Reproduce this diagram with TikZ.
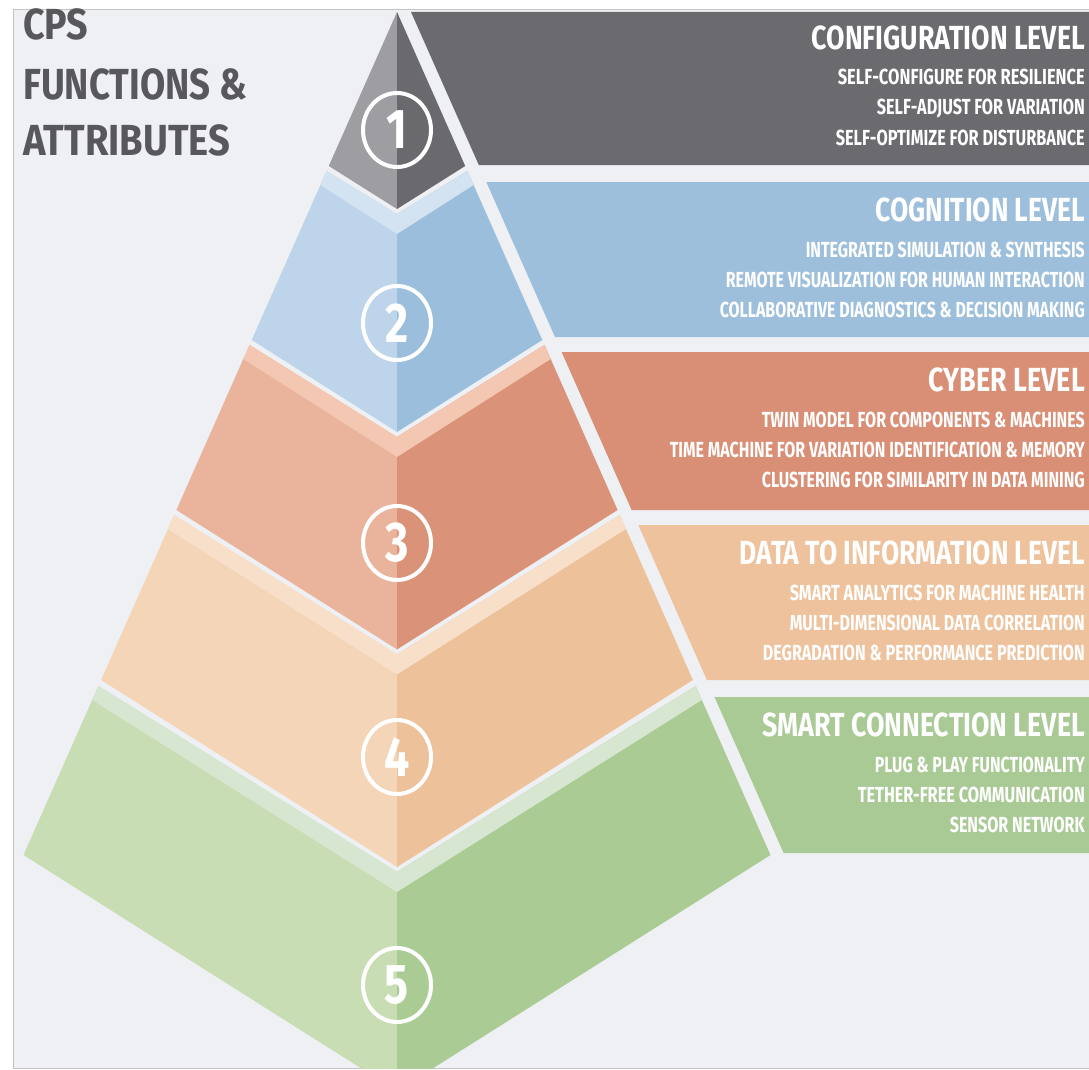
\documentclass[tikz,border=0pt]{standalone}
\usepackage{fontspec}
\usepackage{graphicx}
\usetikzlibrary{shapes.geometric}
\newfontfamily\dinfont{Fira Sans}
\newcommand\fitw[2]{\resizebox{#1pt}{\height}{#2}}
\definecolor{bgc}{HTML}{EEF0F3}
\definecolor{brd}{HTML}{C4C4C6}
\definecolor{ttl}{HTML}{58585C}
\definecolor{pA}{HTML}{6A6A6F}\definecolor{tAl}{HTML}{9E9EA2}\definecolor{tAr}{HTML}{69696E}
\definecolor{pB}{HTML}{9DBFDC}\definecolor{tBl}{HTML}{BDD4EA}\definecolor{tBr}{HTML}{9BBEDC}\definecolor{bB}{HTML}{D3E3F1}
\definecolor{pC}{HTML}{D98F76}\definecolor{tCl}{HTML}{EAB39C}\definecolor{tCr}{HTML}{DA9378}\definecolor{bC}{HTML}{F3C7B1}
\definecolor{pD}{HTML}{EEC29C}\definecolor{tDl}{HTML}{F4D5B8}\definecolor{tDr}{HTML}{EDC199}\definecolor{bD}{HTML}{F7DFCA}
\definecolor{pE}{HTML}{A9CA95}\definecolor{tEl}{HTML}{C9DDB5}\definecolor{tEr}{HTML}{AACB94}\definecolor{bE}{HTML}{D6E6D0}
\tikzset{
  lvltitle/.style={anchor=base east, text=white, inner sep=0pt, font=\dinfont\bfseries\fontsize{33.4}{34}\selectfont},
  lvlsub/.style={anchor=base east, text=white, inner sep=0pt, font=\dinfont\bfseries\fontsize{21.8}{22}\selectfont},
  bigttl/.style={anchor=base west, text=ttl, inner sep=0pt, font=\dinfont\bfseries\fontsize{43.5}{44}\selectfont},
  numring/.style={ellipse, draw=white, line width=4pt, minimum width=68pt, minimum height=74pt, inner sep=0pt, text=white, font=\dinfont\bfseries\fontsize{56}{56}\selectfont}
}
\begin{document}
\begin{tikzpicture}[x=1pt,y=-1pt]
\useasboundingbox (0,0) rectangle (1089,1070);
\fill[white] (0,0) rectangle (1089,1070);
\fill[bgc] (13,10) rectangle (1100,1068);
\draw[brd, line width=1pt] (1100,10) -- (13,10) -- (13,1068) -- (1100,1068);

% right panels
\fill[pA] (411,12) -- (1095,12) -- (1095,165) -- (478.8,165) -- cycle;
\fill[pB] (486.3,182) -- (1095,182) -- (1095,337) -- (555.0,337) -- cycle;
\fill[pC] (561.6,352) -- (1095,352) -- (1095,510) -- (631.6,510) -- cycle;
\fill[pD] (638.3,525) -- (1095,525) -- (1095,680) -- (706.9,680) -- cycle;
\fill[pE] (714.5,697) -- (1095,697) -- (1095,853) -- (783.6,853) -- cycle;

% pyramid
\begin{scope}
\clip (13,10) rectangle (1100,1068);
% tier 1
\fill[tAl] (397,12) -- (328.8,166) -- (397,209) -- cycle;
\fill[tAr] (397,12) -- (465.2,166) -- (397,209) -- cycle;
% tier 2
\fill[tBl] (397,214) -- (326.6,171) -- (251.7,340) -- (397,432) -- cycle;
\fill[tBr] (397,214) -- (467.4,171) -- (542.3,340) -- (397,432) -- cycle;
\fill[bB] (397,214) -- (326.6,171) -- (320.4,185) -- (397,234) -- (473.6,185) -- (467.4,171) -- cycle;
% tier 3
\fill[tCl] (397,437) -- (249.5,345) -- (176.4,510) -- (397,649.4) -- cycle;
\fill[tCr] (397,437) -- (544.5,345) -- (617.6,510) -- (397,649.4) -- cycle;
\fill[bC] (397,437) -- (249.5,345) -- (243.3,359) -- (397,457) -- (550.7,359) -- (544.5,345) -- cycle;
% tier 4
\fill[tDl] (397,654.4) -- (174.2,515) -- (101.1,680) -- (397,867) -- cycle;
\fill[tDr] (397,654.4) -- (619.8,515) -- (692.9,680) -- (397,867) -- cycle;
\fill[bD] (397,654.4) -- (174.2,515) -- (168.0,529) -- (397,674.4) -- (626.0,529) -- (619.8,515) -- cycle;
% tier 5
\fill[tEl] (397,872) -- (98.4,686) -- (23.5,855) -- (397,1091) -- cycle;
\fill[tEr] (397,872) -- (695.6,686) -- (770.5,855) -- (397,1091) -- cycle;
\fill[bE] (397,872) -- (98.4,686) -- (92.2,700) -- (397,892) -- (701.8,700) -- (695.6,686) -- cycle;
\end{scope}

% numbers
\node[numring] (n1) at (397,130) {\scalebox{0.8}[1]{1}};
\node[numring] (n2) at (397,323) {\scalebox{0.8}[1]{2}};
\node[numring] (n3) at (397,543) {\scalebox{0.8}[1]{3}};
\node[numring] (n4) at (397,757) {\scalebox{0.8}[1]{4}};
\node[numring] (n5) at (397,985) {\scalebox{0.8}[1]{5}};

% heading
\node[bigttl] (h1) at (23,40) {\fitw{65}{CPS}};
\node[bigttl] (h2) at (23,100) {\fitw{224}{FUNCTIONS \&}};
\node[bigttl] (h3) at (23,155) {\fitw{207}{ATTRIBUTES}};

% panel 1
\node[lvltitle] (t1) at (1085,50) {\fitw{273}{CONFIGURATION LEVEL}};
\node[lvlsub] (s11) at (1085,85) {\fitw{247}{SELF-CONFIGURE FOR RESILIENCE}};
\node[lvlsub] (s12) at (1085,115) {\fitw{208}{SELF-ADJUST FOR VARIATION}};
\node[lvlsub] (s13) at (1085,146) {\fitw{249}{SELF-OPTIMIZE FOR DISTURBANCE}};
% panel 2
\node[lvltitle] (t2) at (1085,221.5) {\fitw{209}{COGNITION LEVEL}};
\node[lvlsub] (s21) at (1085,257.5) {\fitw{279}{INTEGRATED SIMULATION \& SYNTHESIS}};
\node[lvlsub] (s22) at (1085,287.5) {\fitw{359}{REMOTE VISUALIZATION FOR HUMAN INTERACTION}};
\node[lvlsub] (s23) at (1085,317.5) {\fitw{365}{COLLABORATIVE DIAGNOSTICS \& DECISION MAKING}};
% panel 3
\node[lvltitle] (t3) at (1085,391.5) {\fitw{156}{CYBER LEVEL}};
\node[lvlsub] (s31) at (1085,427.5) {\fitw{323}{TWIN MODEL FOR COMPONENTS \& MACHINES}};
\node[lvlsub] (s32) at (1085,457.5) {\fitw{415}{TIME MACHINE FOR VARIATION IDENTIFICATION \& MEMORY}};
\node[lvlsub] (s33) at (1085,487.5) {\fitw{323}{CLUSTERING FOR SIMILARITY IN DATA MINING}};
% panel 4
\node[lvltitle] (t4) at (1085,564.5) {\fitw{345}{DATA TO INFORMATION LEVEL}};
\node[lvlsub] (s41) at (1085,600.5) {\fitw{295}{SMART ANALYTICS FOR MACHINE HEALTH}};
\node[lvlsub] (s42) at (1085,630.5) {\fitw{295}{MULTI-DIMENSIONAL DATA CORRELATION}};
\node[lvlsub] (s43) at (1085,660.5) {\fitw{322}{DEGRADATION \& PERFORMANCE PREDICTION}};
% panel 5
\node[lvltitle] (t5) at (1085,736.5) {\fitw{322}{SMART CONNECTION LEVEL}};
\node[lvlsub] (s51) at (1085,772.5) {\fitw{210}{PLUG \& PLAY FUNCTIONALITY}};
\node[lvlsub] (s52) at (1085,802.5) {\fitw{227}{TETHER-FREE COMMUNICATION}};
\node[lvlsub] (s53) at (1085,832.5) {\fitw{135}{SENSOR NETWORK}};
\end{tikzpicture}
\end{document}
